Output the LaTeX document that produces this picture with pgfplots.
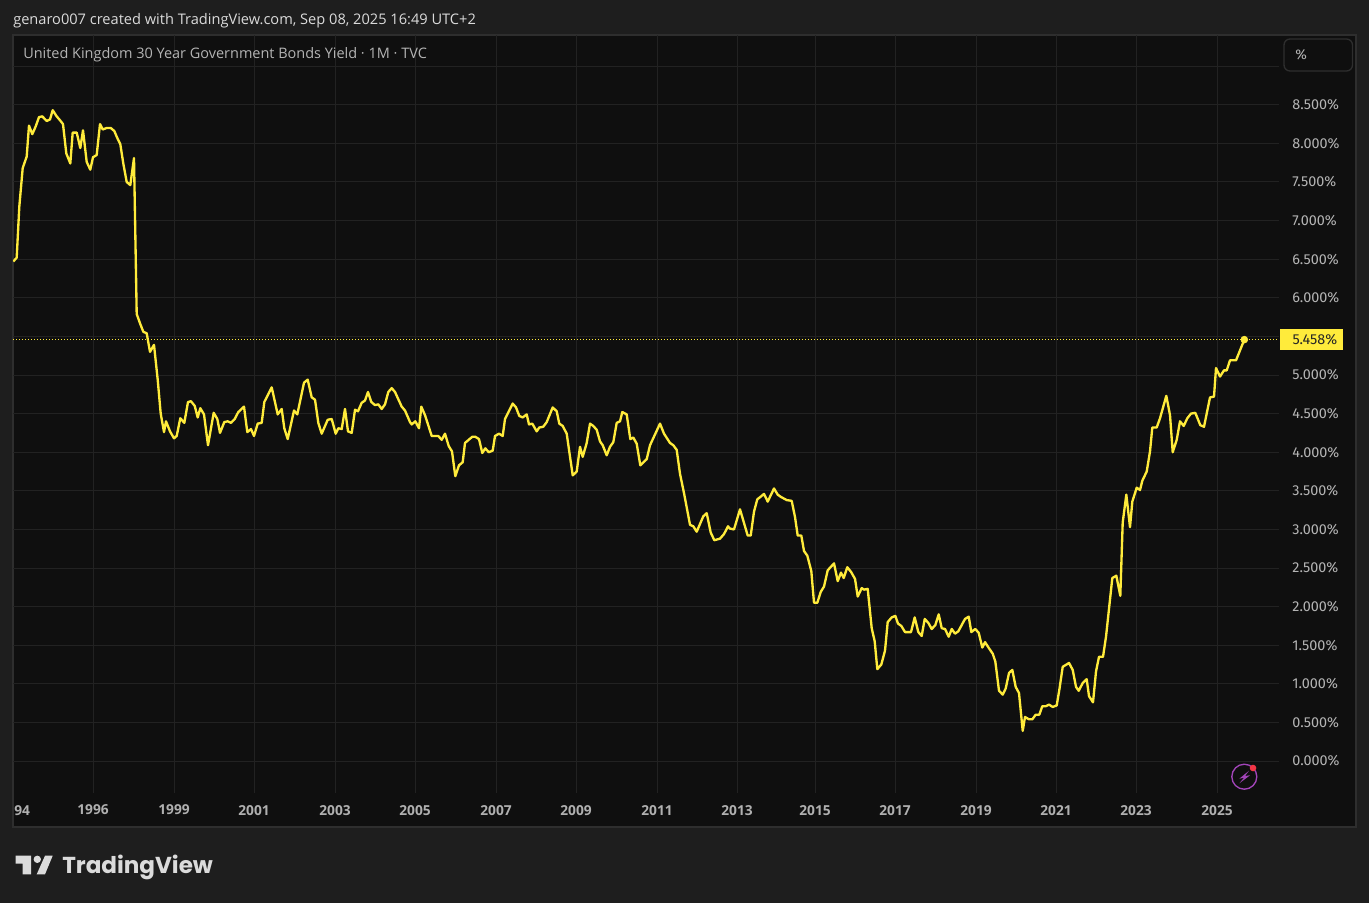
\documentclass[border=0pt]{standalone}
\usepackage{fontspec}
\setmainfont{Fira Sans}
\newfontfamily\xfont{Open Sans}
\newfontfamily\headfont{Open Sans}
\newfontfamily\logofont{Poppins}
\usepackage{pgfplots}
\pgfplotsset{compat=1.18}
\definecolor{pagebg}{HTML}{1E1E1E}
\definecolor{panelbg}{HTML}{0F0F0F}
\definecolor{panelborder}{HTML}{2E2E2E}
\definecolor{gridc}{HTML}{222222}
\definecolor{lineY}{HTML}{FFEB3B}
\definecolor{axtxt}{HTML}{B4B4B4}
\definecolor{xtxt}{HTML}{B0B0B0}
\definecolor{headtxt}{HTML}{DBDBDB}
\definecolor{purp}{HTML}{A345BA}
\definecolor{redd}{HTML}{F23645}
\begin{document}
\begin{tikzpicture}
\begin{scope}[x=0.75pt,y=-0.75pt]
\useasboundingbox (0,0) rectangle (1369,903);
\fill[pagebg] (0,0) rectangle (1369,903);
\fill[panelbg,draw=panelborder,line width=1.5pt] (13,35) rectangle (1356,827);
\end{scope}
\begin{axis}[
  at={(9.75pt,-26.25pt)}, anchor=north west,
  scale only axis, width=949.5pt, height=568.5pt,
  xmin=13, xmax=1279, ymin=-0.4145, ymax=9.404,
  axis line style={draw=none},
  major tick length=0pt,
  grid=major, grid style={gridc,line width=0.75pt},
  xtick={93,174,254,335,415,496,576,657,737,815,895,976,1056,1136,1217},
  xticklabels={1996,1999,2001,2003,2005,2007,2009,2011,2013,2015,2017,2019,2021,2023,2025},
  xticklabel style={font=\xfont\bfseries\fontsize{10.3pt}{12pt}\selectfont,text=xtxt,yshift=-5.5pt},
  ytick={0,0.5,1,1.5,2,2.5,3,3.5,4,4.5,5,6,6.5,7,7.5,8,8.5},
  extra y ticks={5.5,9}, extra y tick labels={},
  extra y tick style={grid=major},
  yticklabel pos=right,
  yticklabel={\pgfmathprintnumber[fixed,fixed zerofill,precision=3,assume math mode=true]{\tick}\%},
  yticklabel style={font=\fontsize{10.8pt}{12pt}\selectfont,text=axtxt,anchor=west,xshift=6.5pt},
  clip=true,
]
\addplot[lineY,line width=0.75pt,dash pattern=on 0.75pt off 1.5pt] coordinates {(13,5.458) (1279,5.458)};
\addplot[lineY,line width=1.75pt,line join=round] coordinates {
(13.3,6.47)(16.7,6.52)(19.3,7.18)(22.7,7.68)(26.7,7.83)(29,8.23)(32.3,8.12)(35.7,8.22)(39,8.34)(42.3,8.35)
(46.7,8.29)(50,8.31)(52.7,8.43)(56.7,8.35)(60,8.30)(63,8.25)(66.3,7.87)(70.3,7.74)(72.7,8.14)(76.7,8.14)
(80.3,7.94)(83,8.17)(86.7,7.76)(90.3,7.66)(93,7.82)(96.7,7.85)(100,8.25)(102.7,8.18)(106.7,8.20)(110.7,8.20)
(114.3,8.16)(117.3,8.07)(120.3,7.99)(123.3,7.74)(126.7,7.50)(130.3,7.46)(134,7.81)(136.7,5.79)(140,5.67)(143.3,5.56)
(146.7,5.54)(150,5.30)(154,5.39)(157.7,4.94)(160.7,4.50)(164,4.26)(166,4.40)(170,4.27)(174,4.18)(176.7,4.21)
(180.3,4.44)(184.3,4.38)(188,4.65)(191,4.66)(194.7,4.60)(197.7,4.45)(200.3,4.57)(204,4.49)(208,4.09)(213.7,4.51)
(217.3,4.43)(220,4.25)(224.3,4.39)(227.7,4.40)(231,4.38)(234.7,4.43)(238.3,4.52)(244,4.59)(247.3,4.26)(251,4.30)
(254,4.21)(257.7,4.37)(261.7,4.38)(264.3,4.65)(271.7,4.84)(277.7,4.49)(281.7,4.56)(284.3,4.31)(287.7,4.17)(294,4.54)
(297.3,4.49)(304,4.90)(307.7,4.94)(311.7,4.71)(315,4.68)(318.3,4.38)(321.7,4.24)(327.7,4.42)(331.7,4.43)(335.7,4.24)
(338.3,4.31)(341.7,4.30)(345,4.56)(348,4.27)(351.7,4.25)(355,4.55)(358,4.53)(361.7,4.64)(365,4.67)(368,4.78)
(371.3,4.65)(375,4.61)(378.3,4.62)(381.7,4.56)(385,4.62)(388.3,4.78)(391.7,4.83)(395,4.78)(401.7,4.59)(405,4.54)
(410,4.39)(411.7,4.36)(415.3,4.40)(419,4.31)(421.3,4.59)(425,4.48)(431.7,4.21)(438.3,4.21)(441.7,4.16)(445,4.24)
(448.7,4.08)(452,4.01)(455.3,3.69)(459,3.83)(462.7,3.87)(465,4.12)(472.3,4.20)(475.3,4.20)(479,4.17)(482.3,3.99)
(485.3,4.05)(488.7,4.00)(492.7,4.02)(495,4.21)(499,4.24)(502.7,4.21)(505,4.43)(512.7,4.63)(516,4.58)(519.3,4.47)
(522.7,4.45)(526.7,4.49)(529,4.36)(532.3,4.37)(536.7,4.27)(539.3,4.32)(543.3,4.33)(546.7,4.39)(552.7,4.58)(556.7,4.53)
(559.3,4.37)(562.7,4.34)(566.7,4.24)(572.7,3.70)(576.7,3.75)(580,4.07)(582.7,3.94)(586.7,4.12)(590,4.37)(593.3,4.34)
(596.7,4.29)(600,4.14)(602.7,4.09)(606.7,3.96)(610,4.07)(613.3,4.13)(616.7,4.38)(620,4.40)(622.3,4.52)(626.7,4.49)
(630.3,4.17)(633.3,4.19)(636.7,4.11)(640.3,3.83)(646.7,3.91)(650,4.09)(660,4.37)(664,4.24)(670,4.12)(673.3,4.09)
(676.7,4.03)(680,3.72)(684,3.47)(690,3.06)(693.3,3.04)(696.7,2.97)(703.3,3.17)(706.7,3.21)(710.7,2.96)(714.3,2.86)
(720,2.88)(724,2.94)(728,3.04)(730,3.01)(734,3.00)(740,3.26)(747.7,2.92)(750.7,2.92)(754,3.23)(757.3,3.39)
(760.3,3.42)(764,3.46)(767.7,3.36)(774,3.53)(777.7,3.45)(781,3.42)(786.7,3.38)(791.7,3.37)(795,3.16)(797.7,2.92)
(801.3,2.92)(804,2.72)(807.3,2.66)(811.3,2.46)(814,2.05)(817.3,2.05)(820.7,2.19)(824,2.26)(827.7,2.47)(834,2.56)
(837.7,2.33)(841,2.44)(843.7,2.37)(847.3,2.51)(851,2.45)(855,2.36)(857.7,2.13)(861.7,2.24)(864,2.22)(867.7,2.23)
(871.7,1.72)(874.7,1.55)(877.3,1.19)(881.3,1.25)(885,1.43)(887.7,1.80)(891.7,1.86)(895.3,1.88)(898,1.78)(901.3,1.75)
(905,1.67)(911,1.67)(914.7,1.86)(918.3,1.67)(921.7,1.62)(924.7,1.84)(928.3,1.79)(931.7,1.71)(935.3,1.76)(938.7,1.90)
(941.7,1.72)(945,1.71)(948.7,1.61)(951.7,1.71)(955,1.65)(958.3,1.68)(965,1.84)(968.7,1.87)(971.3,1.67)(975.3,1.71)
(978.7,1.66)(982.3,1.47)(985,1.54)(989,1.46)(992.7,1.39)(995.3,1.29)(999,0.91)(1002.7,0.86)(1005.7,0.94)(1009,1.14)
(1012.3,1.18)(1015.7,0.96)(1019,0.88)(1022.7,0.39)(1025,0.57)(1029,0.54)(1032.3,0.54)(1035.7,0.60)(1039.3,0.60)(1042.3,0.71)
(1045.7,0.71)(1049,0.73)(1052.7,0.70)(1056.7,0.72)(1059.3,0.92)(1062.7,1.22)(1069,1.27)(1072.7,1.18)(1076,0.96)(1078.7,0.91)
(1082.7,1.01)(1086.7,1.06)(1089,0.84)(1093,0.76)(1096,1.16)(1099,1.35)(1103,1.35)(1106,1.61)(1112.3,2.37)(1116.3,2.40)
(1120.3,2.14)(1122.7,3.09)(1126.3,3.45)(1130,3.03)(1132.3,3.36)(1136.7,3.54)(1140,3.51)(1142.3,3.63)(1146.7,3.75)(1150,4.01)
(1152.3,4.32)(1156.7,4.32)(1160,4.44)(1166.3,4.73)(1170,4.48)(1172.7,4.00)(1176.7,4.16)(1180,4.40)(1183.7,4.34)(1187.3,4.44)
(1191,4.50)(1195.3,4.51)(1200.3,4.35)(1204,4.33)(1210,4.71)(1214,4.72)(1216,5.09)(1220,4.98)(1224,5.06)(1226.7,5.06)
(1230,5.19)(1236,5.19)(1244.3,5.458)
};
\addplot[only marks,mark=*,mark size=2.6pt,lineY,mark options={fill=lineY,draw=lineY}] coordinates {(1244.3,5.458)};
\end{axis}
\begin{scope}[x=0.75pt,y=-0.75pt]
\node[anchor=west,inner sep=0,text=headtxt,font=\headfont\fontsize{10.95pt}{12pt}\selectfont] at (13,20.5) {genaro007 created with TradingView.com, Sep 08, 2025 16:49 UTC+2};
\node[anchor=west,inner sep=0,text=axtxt,font=\headfont\fontsize{10.85pt}{12pt}\selectfont] at (23,54.5) {United Kingdom 30 Year Government Bonds Yield · 1M · TVC};
\node[anchor=west,inner sep=0,text=xtxt,font=\xfont\bfseries\fontsize{10.3pt}{12pt}\selectfont] at (14,811) {94};
% unit box
\draw[panelborder,fill=panelbg,line width=1pt,rounded corners=4.5pt] (1284,39) rectangle (1352.5,71);
\node[anchor=west,inner sep=0,text=axtxt,font=\fontsize{10.5pt}{12pt}\selectfont] at (1295,55) {\%};
% price label
\fill[lineY] (1280,329) rectangle (1343,350);
\node[anchor=east,inner sep=0,text=black!85,font=\fontsize{10.8pt}{12pt}\selectfont] at (1337.5,340) {5.458\%};
% bolt icon
\draw[purp,line width=1pt] (1244.3,776.7) circle (12.5);
\fill[purp] (1249,770.7) -- (1239.3,778.7) -- (1244,777.7) -- (1239.3,783.3) -- (1250,775.3) -- (1245,776) -- cycle;
\fill[redd] (1253,768) circle (3.3);
% logo
\fill[headtxt] (15.7,855.7) -- (31,855.7) -- (31,874.3) -- (22.7,874.3) -- (22.7,863.5) -- (15.7,863.5) -- cycle;
\fill[headtxt] (37.3,859.3) circle (3.7);
\fill[headtxt] (45,855.7) -- (52.7,855.7) -- (45,874.3) -- (36.7,874.3) -- cycle;
\node[anchor=west,inner sep=0,text=headtxt,font=\logofont\bfseries\fontsize{17.3pt}{20pt}\selectfont] at (62,867) {TradingView};
\end{scope}
\end{tikzpicture}
\end{document}
